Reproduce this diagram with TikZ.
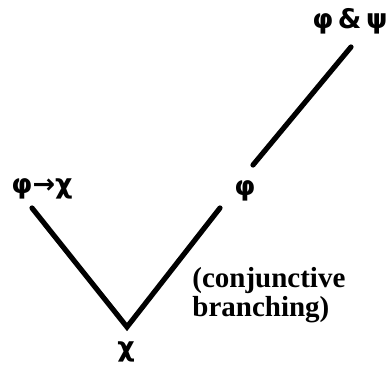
\documentclass[tikz,border=0pt]{standalone}
\usepackage{fontspec}
\setmainfont{Liberation Serif}
\newfontfamily\greekfont{DejaVu Sans}
\usetikzlibrary{calc}

\begin{document}
\begin{tikzpicture}[
    x=0.5pt, y=-0.5pt,
    formula/.style={
        font=\greekfont\bfseries\fontsize{13.5}{15}\selectfont,
        inner sep=0pt
    },
    notelabel/.style={
        font=\bfseries\fontsize{14.5}{14.5}\selectfont,
        align=left,
        inner sep=0pt
    },
    branch/.style={
        line width=2.6pt,
        line cap=round,
        line join=miter
    }
]

% ---------------------------------
% Frame
% ---------------------------------
\useasboundingbox (0,0) rectangle (387,367);

% ---------------------------------
% Formulas
% ---------------------------------
\node[formula, anchor=base west] (conj) at (312, 29) {φ\,\&\,ψ};
\node[formula, anchor=base west] (imp) at (11, 194) {φ→χ};
\node[formula, anchor=base] (phi) at (245, 196) {φ};
\node[formula, anchor=base] (chi) at (126, 357) {χ};

% ---------------------------------
% Note
% ---------------------------------
\node[notelabel, anchor=base west] (note) at (192, 317)
    {(conjunctive\\branching)};

% ---------------------------------
% Branches
% ---------------------------------
\coordinate (vertex) at ([shift={(1,-30)}]chi.base);

\draw[branch] ([shift={(21,14)}]imp.base west) -- (vertex)
    -- ([shift={(-25,12)}]phi.base);
\draw[branch] ([shift={(8,-31)}]phi.base) -- ([shift={(39,18)}]conj.base west);

\end{tikzpicture}
\end{document}
